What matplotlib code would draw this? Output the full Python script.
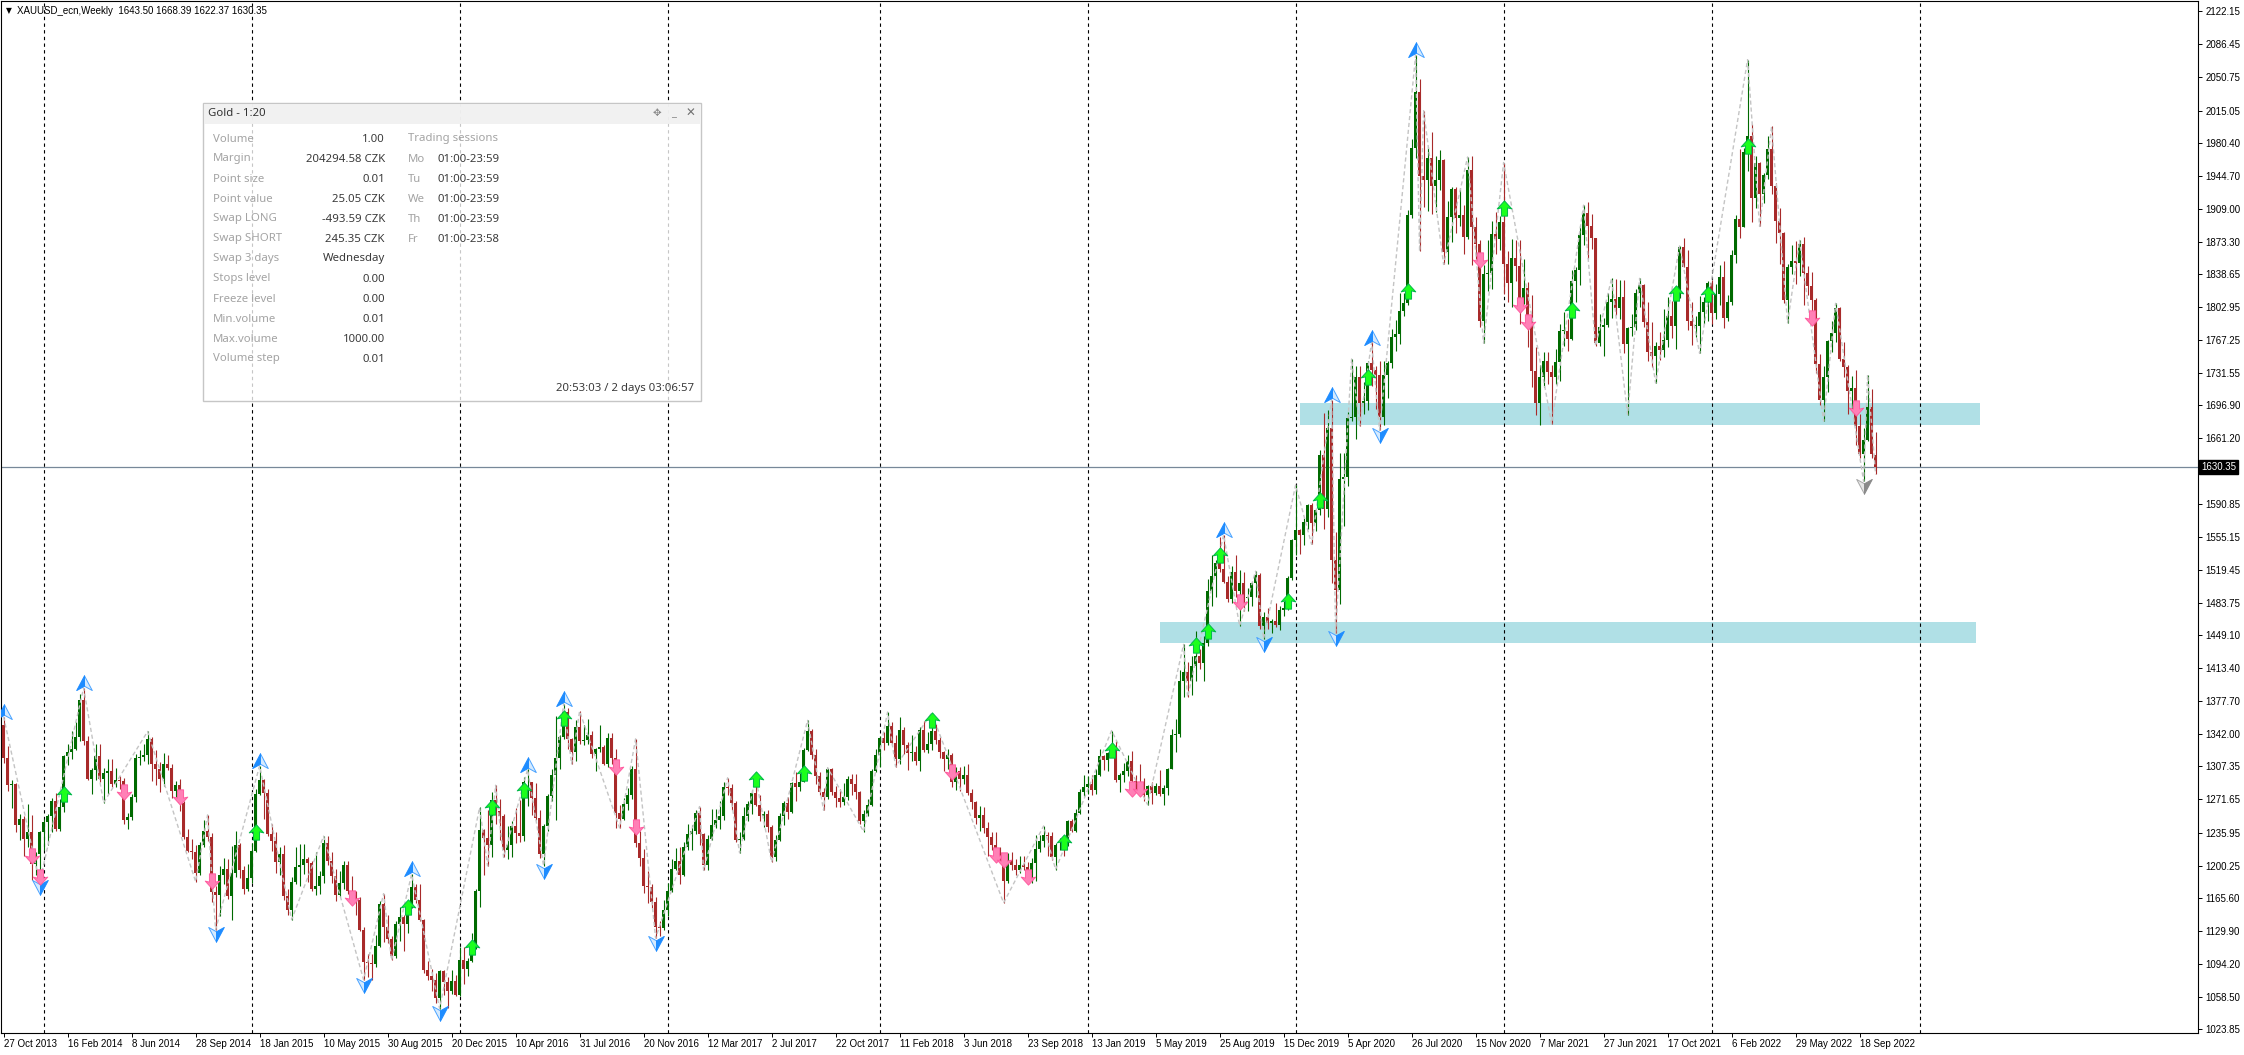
import numpy as np
import matplotlib
matplotlib.use("Agg")
import matplotlib.pyplot as plt
from matplotlib.path import Path
from matplotlib.patches import Rectangle
import matplotlib.transforms as mtrans

plt.rcParams['font.family'] = ['Liberation Sans', 'DejaVu Sans']

# ---------------- weekly OHLC, first bar = week of 27 Oct 2013 ----------------
week_open = [
    1352,1316,1287,1288,1244,1251,1229,1236,1202,1213,
    1237,1247,1254,1270,1240,1263,1318,1323,1326,1339,1379,1335,1294,1303,1318,1294,1300,1302,1288,1293,1292,1250,1253,1274,1316,1317,1320,1337,1310,1304,1294,1310,1306,1281,1287,1268,1231,1216,1215,1192,1222,1238,1231,1172,1169,1190,1197,1167,1192,1222,1196,1175,
    1187,1216,1277,1293,1279,1234,1227,1204,1213,1167,1152,1183,1199,1201,1207,1203,1175,1178,1189,1225,1205,1189,1168,1181,1201,1173,1168,1163,1131,1096,1095,1094,1113,1159,1134,1121,1103,1137,1145,1137,1156,1177,1163,1142,1088,1081,1077,1057,1086,1075,1065,1076,
    1061,1098,1089,1097,1117,1173,1239,1230,1222,1271,1259,1254,1217,1222,1243,1235,1232,1290,1290,1273,1252,1213,1243,1275,1298,1316,1339,1366,1337,1323,1350,1335,1336,1341,1321,1326,1328,1310,1338,1316,1257,1251,1267,1276,1304,1225,1208,1178,1177,1161,1134,1133,
    1152,1173,1197,1205,1190,1220,1234,1238,1257,1234,1201,1229,1244,1249,1254,1285,1284,1268,1228,1229,1254,1267,1279,1266,1254,1256,1242,1209,1228,1254,1268,1258,1289,1285,1291,1325,1346,1320,1297,1280,1274,1304,1280,1273,1269,1274,1294,1288,1280,1248,1256,1266,1302,
    1320,1338,1333,1351,1333,1315,1347,1330,1322,1323,1313,1347,1325,1332,1345,1336,1323,1315,1320,1291,1302,1294,1298,1279,1269,1252,1255,1241,1231,1223,1214,1212,1184,1206,1201,1196,1201,1199,1192,1203,1218,1227,1233,1232,1210,1222,1223,1222,1248,1238,1257,1280,
    1285,1288,1282,1298,1318,1314,1322,1329,1293,1298,1302,1313,1292,1291,1290,1276,1286,1279,1286,1277,1284,1305,1341,1342,1399,1409,1399,1416,1426,1419,1440,1497,1513,1527,1520,1506,1488,1517,1497,1505,1489,1490,1505,1514,1459,1468,1462,1464,1460,1476,1478,1511,
    1552,1562,1557,1571,1589,1570,1584,1643,1585,1673,1530,1498,1617,1620,1683,1684,1727,1700,1702,1743,1735,1730,1684,1730,1743,1771,1774,1799,1807,1902,1975,2035,1944,1940,1964,1934,1940,1962,1862,1900,1930,1899,1902,1879,1951,1889,1871,1788,1839,1840,1882,1876,
    1895,1849,1829,1856,1847,1813,1824,1784,1734,1700,1727,1745,1733,1728,1744,1777,1777,1769,1831,1843,1881,1905,1891,1877,1764,1781,1784,1808,1812,1802,1814,1763,1780,1781,1818,1827,1787,1754,1750,1761,1757,1768,1793,1783,1818,1868,1846,1788,1783,1783,1798,1809,
    1829,1797,1817,1835,1791,1808,1859,1898,1889,1970,1988,1921,1958,1925,1945,1974,1934,1896,1883,1811,1846,1853,1851,1871,1840,1826,1811,1742,1703,1727,1766,1775,1802,1747,1738,1712,1716,1675,1644,1660,1695,1643.50,
]
week_high = [
    1361,1329,1293,1289,1256,1254,1267,1255,1215,1238,
    1251,1256,1273,1279,1272,1320,1332,1345,1355,1385,1392,1340,1306,1331,1331,1306,1315,1315,1306,1297,1295,1257,1278,1321,1325,1332,1345,1339,1325,1312,1322,1320,1310,1292,1294,1270,1240,1229,1222,1226,1249,1255,1235,1178,1200,1208,1207,1221,1238,1225,1200,1202,
    1225,1283,1308,1294,1283,1245,1237,1220,1223,1175,1188,1220,1224,1224,1209,1205,1215,1194,1232,1232,1215,1197,1194,1205,1205,1189,1173,1166,1134,1105,1105,1125,1162,1170,1147,1124,1140,1156,1147,1156,1191,1180,1180,1143,1097,1089,1084,1088,1088,1080,1088,1082,
    1112,1112,1100,1127,1175,1263,1240,1260,1280,1287,1272,1256,1243,1248,1262,1271,1296,1304,1291,1289,1260,1245,1277,1304,1362,1341,1375,1370,1338,1357,1367,1352,1358,1346,1327,1352,1330,1343,1343,1326,1266,1273,1284,1308,1337,1238,1218,1194,1180,1166,1140,1163,
    1182,1207,1219,1220,1226,1245,1244,1260,1264,1235,1233,1261,1261,1270,1290,1295,1288,1270,1237,1264,1270,1282,1296,1276,1259,1260,1244,1233,1257,1270,1274,1291,1301,1300,1327,1357,1348,1326,1301,1284,1306,1306,1286,1283,1289,1297,1299,1299,1281,1260,1272,1305,1326,
    1340,1344,1366,1355,1341,1361,1350,1334,1341,1329,1350,1356,1344,1365,1353,1339,1324,1326,1322,1307,1307,1308,1310,1283,1270,1265,1263,1247,1236,1236,1220,1214,1214,1215,1207,1211,1211,1204,1208,1233,1233,1243,1237,1237,1225,1230,1229,1250,1251,1261,1283,1298,
    1297,1298,1305,1326,1320,1323,1346,1335,1300,1311,1320,1324,1298,1310,1295,1287,1290,1289,1303,1287,1306,1348,1358,1411,1439,1420,1426,1453,1434,1448,1510,1535,1530,1555,1557,1513,1524,1535,1519,1517,1500,1506,1518,1516,1474,1478,1466,1484,1480,1486,1513,1553,
    1611,1563,1575,1590,1592,1585,1649,1689,1692,1703,1560,1645,1645,1690,1747,1739,1739,1722,1745,1765,1739,1745,1745,1745,1779,1789,1818,1818,1908,1984,2075,2049,2015,1976,1992,1966,1973,1963,1917,1933,1933,1932,1913,1965,1966,1900,1875,1848,1875,1896,1906,1901,
    1959,1864,1876,1875,1875,1855,1830,1816,1760,1740,1755,1755,1740,1758,1785,1798,1790,1843,1846,1890,1913,1916,1903,1877,1795,1791,1818,1834,1833,1832,1832,1782,1795,1823,1834,1828,1809,1787,1765,1776,1801,1814,1810,1818,1869,1877,1865,1808,1793,1815,1814,1831,
    1832,1828,1848,1853,1816,1865,1902,1974,1975,2070,2001,1966,1960,1948,1988,1998,1937,1910,1884,1849,1870,1874,1875,1879,1847,1841,1813,1752,1739,1767,1788,1807,1803,1765,1740,1729,1735,1688,1672,1730,1715,1668.39,
]
week_low = [
    1311,1281,1262,1237,1228,1211,1220,1185,1190,1182,
    1217,1222,1237,1238,1238,1258,1309,1315,1325,1335,1330,1293,1277,1293,1291,1268,1277,1285,1285,1283,1245,1240,1250,1269,1309,1313,1310,1292,1287,1280,1286,1303,1273,1274,1259,1229,1215,1207,1183,1190,1220,1227,1161,1131,1146,1180,1164,1142,1188,1187,1170,1173,
    1181,1215,1276,1251,1232,1216,1192,1190,1163,1147,1142,1180,1178,1191,1183,1173,1169,1170,1182,1201,1182,1162,1166,1175,1170,1162,1147,1130,1077,1080,1077,1091,1112,1118,1117,1098,1101,1119,1108,1127,1154,1160,1140,1084,1077,1065,1052,1046,1061,1047,1062,1059,
    1060,1073,1081,1096,1110,1156,1190,1200,1209,1245,1228,1209,1207,1210,1225,1226,1227,1265,1255,1249,1208,1200,1238,1270,1250,1305,1337,1326,1310,1313,1331,1330,1332,1316,1302,1323,1309,1307,1310,1241,1241,1250,1260,1272,1220,1200,1171,1160,1155,1122,1124,1131,
    1146,1172,1195,1180,1189,1217,1217,1234,1223,1195,1196,1228,1241,1240,1250,1276,1260,1226,1214,1228,1248,1256,1265,1248,1242,1236,1204,1205,1227,1244,1251,1257,1270,1281,1290,1324,1315,1288,1276,1260,1272,1276,1263,1264,1266,1271,1276,1272,1245,1237,1254,1265,1301,
    1307,1325,1330,1330,1307,1310,1321,1303,1313,1309,1302,1323,1322,1325,1332,1316,1302,1304,1285,1282,1281,1288,1276,1261,1245,1238,1235,1211,1217,1205,1205,1160,1182,1195,1190,1192,1195,1181,1182,1184,1215,1220,1211,1206,1196,1217,1211,1221,1236,1237,1256,1275,
    1278,1276,1277,1297,1303,1302,1319,1291,1280,1290,1297,1288,1281,1284,1270,1266,1267,1276,1275,1266,1276,1304,1323,1339,1382,1382,1384,1400,1412,1400,1437,1480,1490,1517,1505,1485,1484,1490,1459,1475,1475,1480,1490,1456,1445,1456,1451,1458,1455,1470,1476,1508,
    1535,1536,1546,1564,1547,1561,1579,1563,1576,1505,1451,1483,1567,1610,1680,1661,1675,1688,1692,1718,1693,1670,1676,1705,1737,1756,1763,1793,1805,1899,1964,1863,1911,1907,1903,1906,1929,1849,1849,1873,1883,1890,1860,1876,1848,1852,1781,1764,1820,1823,1860,1865,
    1817,1808,1803,1831,1785,1806,1760,1717,1687,1676,1717,1720,1677,1720,1723,1761,1756,1768,1808,1827,1870,1855,1866,1761,1761,1750,1782,1791,1794,1790,1753,1687,1772,1778,1803,1782,1745,1738,1721,1746,1749,1760,1770,1758,1813,1846,1778,1762,1771,1753,1785,1788,
    1785,1790,1805,1780,1788,1805,1851,1878,1889,1950,1895,1910,1890,1915,1941,1925,1872,1850,1807,1786,1839,1828,1836,1805,1816,1784,1732,1697,1680,1711,1754,1765,1745,1728,1688,1691,1654,1640,1615,1659,1640,1622.37,
]
week_close = [
    1316,1287,1288,1244,1251,1229,1236,1202,1213,1237,
    1247,1254,1270,1240,1263,1318,1323,1326,1339,1379,1335,1294,1303,1318,1294,1300,1302,1288,1293,1292,1250,1253,1274,1316,1317,1320,1337,1310,1304,1294,1310,1306,1281,1287,1268,1231,1216,1215,1192,1222,1238,1231,1172,1169,1190,1197,1167,1192,1222,1196,1175,1187,
    1216,1277,1293,1279,1234,1227,1204,1213,1167,1152,1183,1199,1201,1207,1203,1175,1178,1189,1225,1205,1189,1168,1181,1201,1173,1168,1163,1131,1096,1095,1094,1113,1159,1134,1121,1103,1137,1145,1137,1156,1177,1163,1142,1088,1081,1077,1057,1086,1075,1065,1076,1061,
    1098,1089,1097,1117,1173,1239,1230,1222,1271,1259,1254,1217,1222,1243,1235,1232,1290,1290,1273,1252,1213,1243,1275,1298,1316,1339,1366,1337,1323,1350,1335,1336,1341,1321,1326,1328,1310,1338,1316,1257,1251,1267,1276,1304,1225,1208,1178,1177,1161,1134,1133,1152,
    1173,1197,1205,1190,1220,1234,1238,1257,1234,1201,1229,1244,1249,1254,1285,1284,1268,1228,1229,1254,1267,1279,1266,1254,1256,1242,1209,1228,1254,1268,1258,1289,1285,1291,1325,1346,1320,1297,1280,1274,1304,1280,1273,1269,1274,1294,1288,1280,1248,1256,1266,1302,1320,
    1338,1333,1351,1333,1315,1347,1330,1322,1323,1313,1347,1325,1332,1345,1336,1323,1315,1320,1291,1302,1294,1298,1279,1269,1252,1255,1241,1231,1223,1214,1212,1184,1206,1201,1196,1201,1199,1192,1203,1218,1227,1233,1232,1210,1222,1223,1222,1248,1238,1257,1280,1285,
    1288,1282,1298,1318,1314,1322,1329,1293,1298,1302,1313,1292,1291,1290,1276,1286,1279,1286,1277,1284,1305,1341,1342,1399,1409,1399,1416,1426,1419,1440,1497,1513,1527,1520,1506,1488,1517,1497,1505,1489,1490,1505,1514,1459,1468,1462,1464,1460,1476,1478,1511,1552,
    1562,1557,1571,1589,1570,1584,1643,1585,1673,1530,1498,1617,1620,1683,1684,1727,1700,1702,1743,1735,1730,1684,1730,1743,1771,1774,1799,1807,1902,1975,2035,1944,1940,1964,1934,1940,1962,1862,1900,1930,1899,1902,1879,1951,1889,1871,1788,1839,1840,1882,1876,1895,
    1849,1829,1856,1847,1813,1824,1784,1734,1700,1727,1745,1733,1728,1744,1777,1777,1769,1831,1843,1881,1905,1891,1877,1764,1781,1784,1808,1812,1802,1814,1763,1780,1781,1818,1827,1787,1754,1750,1761,1757,1768,1793,1783,1818,1868,1846,1788,1783,1783,1798,1809,1829,
    1797,1817,1835,1791,1808,1859,1898,1889,1970,1988,1921,1958,1925,1945,1974,1934,1896,1883,1811,1846,1853,1851,1871,1840,1826,1811,1742,1703,1727,1766,1775,1802,1747,1738,1712,1716,1675,1644,1660,1695,1644,1630.35,
]

# time axis labels (every 16th weekly bar)
date_labels = ["27 Oct 2013", "16 Feb 2014", "8 Jun 2014", "28 Sep 2014", "18 Jan 2015",
               "10 May 2015", "30 Aug 2015", "20 Dec 2015", "10 Apr 2016", "31 Jul 2016",
               "20 Nov 2016", "12 Mar 2017", "2 Jul 2017", "22 Oct 2017", "11 Feb 2018",
               "3 Jun 2018", "23 Sep 2018", "13 Jan 2019", "5 May 2019", "25 Aug 2019",
               "15 Dec 2019", "5 Apr 2020", "26 Jul 2020", "15 Nov 2020", "7 Mar 2021",
               "27 Jun 2021", "17 Oct 2021", "6 Feb 2022", "29 May 2022", "18 Sep 2022"]
date_bar = [0, 16, 32, 48, 64, 80, 96, 112, 128, 144, 160, 176, 192, 208, 224, 240, 256,
            272, 288, 304, 320, 336, 352, 368, 384, 400, 416, 432, 448, 464]
# year separators (first weekly bar of each year)
year_sep_bar = [10, 62, 114, 166, 219, 271, 323, 375, 427, 479]

price_ticks = [2122.15, 2086.45, 2050.75, 2015.05, 1980.40, 1944.70, 1909.00, 1873.30,
               1838.65, 1802.95, 1767.25, 1731.55, 1696.90, 1661.20, 1625.50, 1590.85,
               1555.15, 1519.45, 1483.75, 1449.10, 1413.40, 1377.70, 1342.00, 1307.35,
               1271.65, 1235.95, 1200.25, 1165.60, 1129.90, 1094.20, 1058.50, 1023.85]
hidden_tick = 1625.50  # covered by the current-price box
last_price = 1630.35

# support zones (bar from, bar to, price low, price high)
zone_bar_from = [324, 289]
zone_bar_to = [494, 493]
zone_low = [1675.2, 1441.0]
zone_high = [1699.4, 1463.0]

# zigzag pivots (alternating high / low)
zz_bar = [0, 9, 20, 25, 36, 48, 51, 53, 64, 72, 80, 90, 95, 97, 102, 109, 119, 121, 123, 125,
          131, 135, 140, 142, 144, 154, 158, 163, 174, 175, 181, 184, 188, 192, 201, 205, 206,
          215, 221, 223, 232, 250, 260, 263, 277, 286, 295, 296, 305, 309, 313, 315, 323, 327,
          332, 333, 337, 339, 342, 344, 353, 354, 355, 360, 366, 370, 375, 387, 395, 398, 402,
          406, 409, 413, 419, 424, 436, 439, 442, 446, 449, 455, 458, 465, 466, 468]
zz_kind = ("HLHLHLHLHL" "HLHLHLHLHL" "HLHLHLHLHL" "HLHLHLHLHL"
           "HLHLHLHLHL" "HLHLHLHLHL" "HLHLHLHLHL" "HLHLHLHLHL" "HLHLHL")

# swing markers
blue_up_bar = [0, 20, 64, 102, 131, 140, 305, 332, 342, 353]
blue_dn_bar = [9, 53, 90, 109, 135, 163, 315, 333, 344]
grey_dn_bar = [465]
green_bar = [15, 63, 101, 117, 122, 130, 140, 188, 200, 232, 265, 277, 298, 301, 304, 321, 329,
             341, 351, 375, 392, 418, 426, 436]
green_price = [1278, 1237, 1156, 1112, 1264, 1282, 1359, 1294, 1300, 1357, 1226, 1325, 1438,
               1453, 1535, 1486, 1595, 1728, 1820, 1910, 1800, 1818, 1817, 1977]
pink_bar = [7, 9, 30, 44, 52, 87, 153, 158, 237, 248, 250, 256, 282, 284, 309, 369, 379, 381,
            452, 463]
pink_price = [1211, 1188, 1280, 1274, 1184, 1165, 1307, 1242, 1301, 1212, 1206, 1188, 1283,
              1283, 1485, 1854, 1805, 1787, 1791, 1694]

# info panel
panel_labels = ["Volume", "Margin", "Point size", "Point value", "Swap LONG", "Swap SHORT",
                "Swap 3 days", "Stops level", "Freeze level", "Min.volume", "Max.volume",
                "Volume step"]
panel_values = ["1.00", "204294.58 CZK", "0.01", "25.05 CZK", "-493.59 CZK", "245.35 CZK",
                "Wednesday", "0.00", "0.00", "0.01", "1000.00", "0.01"]
session_days = ["Mo", "Tu", "We", "Th", "Fr"]
session_times = ["01:00-23:59", "01:00-23:59", "01:00-23:59", "01:00-23:59", "01:00-23:58"]

# ---------------- figure ----------------
W, H, DPI = 2244, 1055, 100
fig = plt.figure(figsize=(W / DPI, H / DPI), dpi=DPI, facecolor='white')
L_PX, R_PX, T_PX, B_PX = 1, 2198, 1, 1033
ax = fig.add_axes([L_PX / W, 1 - B_PX / H, (R_PX - L_PX) / W, (B_PX - T_PX) / H])
ax.set_facecolor('white')
ax.set_xlim(-0.65, 548.6)
ax.set_ylim(1019.6, 2133.3)

o = np.array(week_open, float)
hh = np.array(week_high, float)
ll = np.array(week_low, float)
c = np.array(week_close, float)
assert len(o) == len(hh) == len(ll) == len(c)
assert len(zz_bar) == len(zz_kind)
x = np.arange(len(c))

GREEN = '#006a00'
RED = '#a82a2a'
up = c >= o
cols = np.where(up, GREEN, RED)

# zones
for a, b, lo, hi in zip(zone_bar_from, zone_bar_to, zone_low, zone_high):
    ax.add_patch(Rectangle((a, lo), b - a, hi - lo, facecolor='#b0e0e6', edgecolor='none', zorder=1))

# year separators
for s in year_sep_bar:
    ax.axvline(s, color='black', lw=0.8, ls=(0, (3, 3)), zorder=2)

# price line
ax.axhline(last_price, color='#778899', lw=0.9, zorder=2.5)

# candles
ax.vlines(x, ll, hh, colors=cols, linewidth=0.8, zorder=3)
body_lo = np.minimum(o, c)
body_h = np.maximum(np.abs(c - o), 1.0)
ax.bar(x, body_h, bottom=body_lo, width=0.75, color=cols, linewidth=0, zorder=3)

# zigzag
zz_y = [hh[i] if k == 'H' else ll[i] for i, k in zip(zz_bar, zz_kind)]
ax.plot(zz_bar, zz_y, color='#c4c4c4', lw=1.0, ls=(0, (3, 2)), zorder=4)

# markers
def arrow_half(up_dir, side):
    s = 1 if up_dir else -1
    tip = (0, 1 * s); notch = (0, -0.2 * s)
    lw_ = (-0.9, -0.7 * s); rw = (0.9, -0.7 * s)
    verts = [tip, notch, lw_, tip] if side == 'left' else [tip, rw, notch, tip]
    return Path(verts, [Path.MOVETO, Path.LINETO, Path.LINETO, Path.CLOSEPOLY])

def fat_arrow(up_dir):
    s = 1 if up_dir else -1
    pts = [(0, 1), (0.95, -0.05), (0.4, 0.08), (0.4, -1), (-0.4, -1), (-0.4, 0.08), (-0.95, -0.05), (0, 1)]
    verts = [(px, py * s) for px, py in pts]
    codes = [Path.MOVETO] + [Path.LINETO] * 6 + [Path.CLOSEPOLY]
    return Path(verts, codes)

ARW = 12.5
bu_x = blue_up_bar; bu_y = [hh[i] + 4 for i in blue_up_bar]
ax.plot(bu_x, bu_y, ls='none', marker=arrow_half(True, 'right'), ms=ARW, mfc='#d4eaff', mec='#4aa3ff', mew=0.7, zorder=6)
ax.plot(bu_x, bu_y, ls='none', marker=arrow_half(True, 'left'), ms=ARW, mfc='#1e8cff', mec='#1e8cff', mew=0.7, zorder=6)
bd_x = blue_dn_bar; bd_y = [ll[i] - 4 for i in blue_dn_bar]
ax.plot(bd_x, bd_y, ls='none', marker=arrow_half(False, 'left'), ms=ARW, mfc='#d4eaff', mec='#4aa3ff', mew=0.7, zorder=6)
ax.plot(bd_x, bd_y, ls='none', marker=arrow_half(False, 'right'), ms=ARW, mfc='#1e8cff', mec='#1e8cff', mew=0.7, zorder=6)
gd_x = grey_dn_bar; gd_y = [ll[i] - 4 for i in grey_dn_bar]
ax.plot(gd_x, gd_y, ls='none', marker=arrow_half(False, 'left'), ms=ARW, mfc='#e6e6e6', mec='#a8a8a8', mew=0.7, zorder=6)
ax.plot(gd_x, gd_y, ls='none', marker=arrow_half(False, 'right'), ms=ARW, mfc='#8a8a8a', mec='#8a8a8a', mew=0.7, zorder=6)

ax.plot(green_bar, green_price, ls='none', marker=fat_arrow(True), ms=11, mfc='#1cff1c', mec='#00b84a', mew=0.7, zorder=7)
ax.plot(pink_bar, pink_price, ls='none', marker=fat_arrow(False), ms=11, mfc='#ff80b6', mec='#ff5ca0', mew=0.7, zorder=7)

# axes styling
for sp in ax.spines.values():
    sp.set_color('black'); sp.set_linewidth(0.8)
ax.yaxis.tick_right()
ax.set_yticks(price_ticks)
ax.set_yticklabels(["" if v == hidden_tick else f"{v:.2f}" for v in price_ticks])
ax.tick_params(axis='y', direction='out', length=3, width=0.7, pad=2.5, labelsize=7, colors='black')
ax.set_xticks(date_bar)
ax.set_xticklabels(date_labels)
ax.tick_params(axis='x', direction='out', length=3, width=0.7, pad=1.5, labelsize=7, colors='black')
for t in ax.get_xticklabels():
    t.set_ha('left')

# current price label box
blend = mtrans.blended_transform_factory(ax.transAxes, ax.transData)
ax.text(1.0 + 3 / 2197, last_price, f"{last_price:.2f}", transform=blend, ha='left', va='center',
        color='white', fontsize=7, clip_on=False, zorder=20,
        bbox=dict(boxstyle='square,pad=0.2', fc='black', ec='black'))

# ---------------- overlay (pixel coordinates) ----------------
ov = fig.add_axes([0, 0, 1, 1], zorder=10)
ov.set_xlim(0, W); ov.set_ylim(H, 0); ov.axis('off'); ov.patch.set_alpha(0)

ov.text(9, 11, "\u25BC", fontsize=5.5, ha='center', va='center', color='black',
        family=['DejaVu Sans'])
ov.text(17, 11, "XAUUSD_ecn,Weekly  1643.50 1668.39 1622.37 1630.35", fontsize=7,
        ha='left', va='center', color='black')

# panel
ov.add_patch(Rectangle((203, 103), 498, 298, facecolor=(1, 1, 1, 0.78), edgecolor='#c6c6c6', lw=1.0))
ov.add_patch(Rectangle((204, 104), 496, 20, facecolor=(0.94, 0.94, 0.94, 0.9), edgecolor='none'))
PF = ['Noto Sans', 'DejaVu Sans']
ov.text(208, 113.5, "Gold - 1:20", fontsize=8.2, color='#333333', ha='left', va='center', family=PF)
ov.text(657, 113.5, "\u2725", fontsize=7.5, color='#8a8a8a', ha='center', va='center', family=['DejaVu Sans'])
ov.text(673, 113.5, "_", fontsize=8, color='#8a8a8a', ha='center', va='center', family=PF)
ov.text(690, 113.5, "\u2715", fontsize=8.5, color='#707070', ha='center', va='center',
        family=['DejaVu Sans'], fontweight='bold')
for k, (lab, val) in enumerate(zip(panel_labels, panel_values)):
    yy = 139 + 20 * k
    ov.text(213, yy, lab, fontsize=8.2, color='#a3a3a3', ha='left', va='center', family=PF)
    ov.text(385, yy, val, fontsize=8.2, color='#3a3a3a', ha='right', va='center', family=PF)
ov.text(408, 139, "Trading sessions", fontsize=8.2, color='#a3a3a3', ha='left', va='center', family=PF)
for k, (d, t) in enumerate(zip(session_days, session_times)):
    yy = 159 + 20 * k
    ov.text(408, yy, d, fontsize=8.2, color='#a3a3a3', ha='left', va='center', family=PF)
    ov.text(438, yy, t, fontsize=8.2, color='#3a3a3a', ha='left', va='center', family=PF)
ov.text(694, 389, "20:53:03 / 2 days 03:06:57", fontsize=8.2, color='#3a3a3a', ha='right',
        va='center', family=PF)

fig.savefig("out.png", dpi=DPI, facecolor='white')
